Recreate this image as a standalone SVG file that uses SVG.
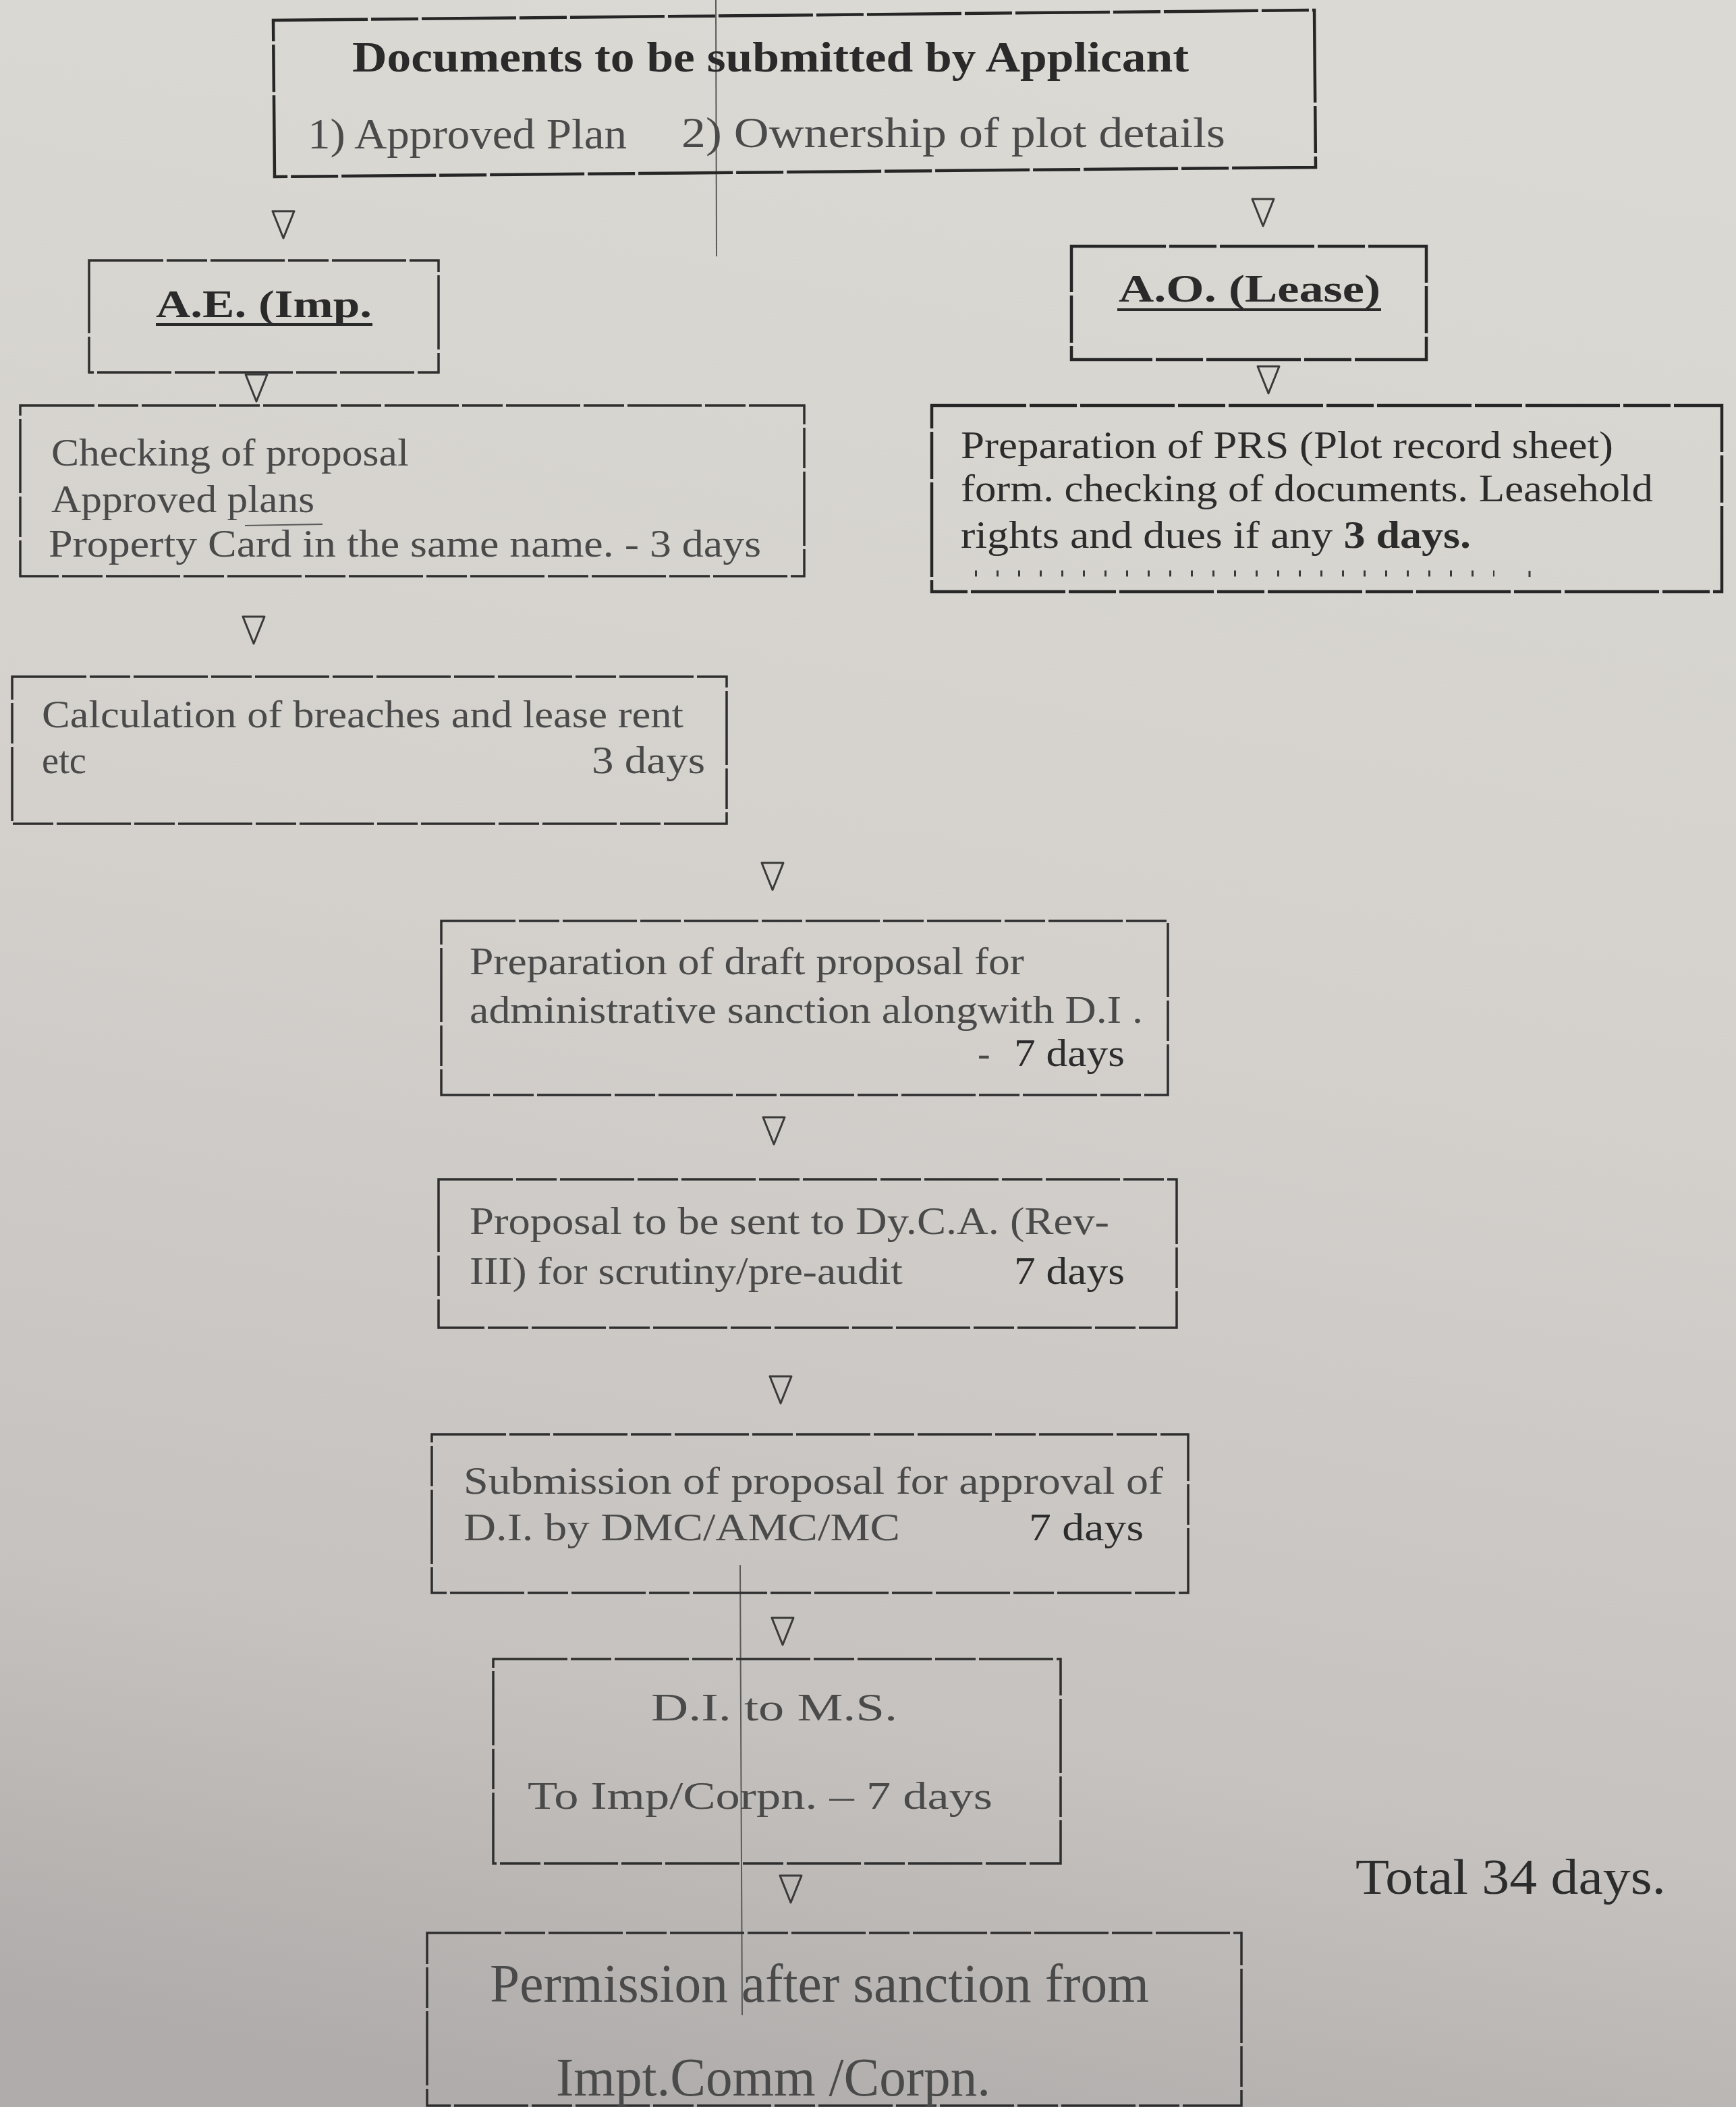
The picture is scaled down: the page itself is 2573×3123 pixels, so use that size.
<svg xmlns="http://www.w3.org/2000/svg" xmlns:xlink="http://www.w3.org/1999/xlink" width="2573" height="3123" viewBox="0 0 2573 3123">
<style>
.box{fill:none;stroke:#2e2e2e;stroke-width:3.5;stroke-dasharray:110 5 60 5}
.boxb{fill:none;stroke:#262626;stroke-width:4.5;stroke-dasharray:140 5 70 5}
.tri{fill:none;stroke:#3a3a3a;stroke-width:3;stroke-linejoin:round}
.t{font-family:"Liberation Serif","Times New Roman",serif;fill:#4a4a4a}
.tb{font-family:"Liberation Serif","Times New Roman",serif;fill:#2a2a2a;font-weight:bold}
.dk{fill:#2c2c2c}
.mark{stroke:#5a5a5a;stroke-width:2;fill:none}
.ul{stroke:#2a2a2a;stroke-width:4}
</style>
<defs>
<linearGradient id="bg" x1="0.5" y1="0" x2="0.35" y2="1">
<stop offset="0" stop-color="#dbd9d4"/>
<stop offset="0.45" stop-color="#d4d1cd"/>
<stop offset="0.8" stop-color="#c6c2bf"/>
<stop offset="1" stop-color="#b0acab"/>
</linearGradient>
<path id="tri" class="tri" d="M-16,0 L16,0 L0,40 Z"/>
</defs>
<rect x="0" y="0" width="2573" height="3123" fill="url(#bg)"/>

<g id="marks">
<line class="mark" x1="1061" y1="0" x2="1062" y2="380"/>
<line class="mark" x1="1097" y1="2320" x2="1100" y2="2987"/>
<line class="mark" x1="363" y1="779" x2="478" y2="777"/>
</g>

<g id="connectors">
<use xlink:href="#tri" x="420" y="313"/>
<use xlink:href="#tri" x="1872" y="295"/>
<use xlink:href="#tri" x="380" y="555"/>
<use xlink:href="#tri" x="1880" y="543"/>
<use xlink:href="#tri" x="376" y="914"/>
<use xlink:href="#tri" x="1145" y="1279"/>
<use xlink:href="#tri" x="1147" y="1656"/>
<use xlink:href="#tri" x="1157" y="2040"/>
<use xlink:href="#tri" x="1160" y="2398"/>
<use xlink:href="#tri" x="1172" y="2780"/>
</g>

<g id="n-documents">
<path class="boxb" d="M405,30 L1948,15 L1950,248 L407,262 Z"/>
<text class="tb" x="522" y="106" font-size="64" textLength="1240" lengthAdjust="spacingAndGlyphs">Documents to be submitted by Applicant</text>
<text class="t" x="456" y="220" font-size="64" textLength="473" lengthAdjust="spacingAndGlyphs">1) Approved Plan</text>
<text class="t" x="1010" y="218" font-size="64" textLength="806" lengthAdjust="spacingAndGlyphs">2) Ownership of plot details</text>
</g>

<g id="n-ae">
<rect class="box" x="132" y="386" width="518" height="166"/>
<text class="tb" x="231" y="470" font-size="58" textLength="320" lengthAdjust="spacingAndGlyphs">A.E. (Imp.</text>
<line class="ul" x1="231" y1="481" x2="552" y2="481"/>
</g>

<g id="n-ao">
<rect class="boxb" x="1588" y="365" width="526" height="168"/>
<text class="tb" x="1658" y="447" font-size="58" textLength="388" lengthAdjust="spacingAndGlyphs">A.O. (Lease)</text>
<line class="ul" x1="1656" y1="459" x2="2047" y2="459"/>
</g>

<g id="n-checking">
<rect class="box" x="30" y="601" width="1162" height="253"/>
<text class="t" x="76" y="690" font-size="56" textLength="530" lengthAdjust="spacingAndGlyphs">Checking of proposal</text>
<text class="t" x="76" y="759" font-size="56" textLength="390" lengthAdjust="spacingAndGlyphs">Approved plans</text>
<text class="t" x="72" y="825" font-size="56" textLength="1056" lengthAdjust="spacingAndGlyphs">Property Card in the same name. - 3  days</text>
</g>

<g id="n-prs">
<rect class="boxb" x="1381" y="601" width="1171" height="276"/>
<text class="t dk" x="1424" y="679" font-size="56" textLength="967" lengthAdjust="spacingAndGlyphs">Preparation of PRS (Plot record sheet)</text>
<text class="t dk" x="1424" y="743" font-size="56" textLength="1026" lengthAdjust="spacingAndGlyphs">form. checking of documents. Leasehold</text>
<text class="t dk" x="1424" y="812" font-size="56" textLength="756" lengthAdjust="spacingAndGlyphs">rights and dues if any  <tspan font-weight="bold">3 days.</tspan></text>
<line x1="1445" y1="850" x2="2215" y2="850" stroke="#3a3a3a" stroke-width="9" stroke-dasharray="3 29"/>
<line x1="2267" y1="846" x2="2267" y2="855" stroke="#3a3a3a" stroke-width="3"/>
</g>

<g id="n-calculation">
<rect class="box" x="18" y="1003" width="1059" height="218"/>
<text class="t" x="62" y="1078" font-size="56" textLength="951" lengthAdjust="spacingAndGlyphs">Calculation of breaches and lease rent</text>
<text class="t" x="62" y="1146" font-size="56" textLength="66" lengthAdjust="spacingAndGlyphs">etc</text>
<text class="t" x="877" y="1146" font-size="56" textLength="168" lengthAdjust="spacingAndGlyphs">3 days</text>
</g>

<g id="n-draft">
<rect class="box" x="654" y="1365" width="1077" height="258"/>
<text class="t" x="696" y="1444" font-size="56" textLength="822" lengthAdjust="spacingAndGlyphs">Preparation of draft proposal for</text>
<text class="t" x="696" y="1516" font-size="56" textLength="998" lengthAdjust="spacingAndGlyphs">administrative sanction alongwith D.I .</text>
<text class="t" x="1449" y="1580" font-size="56">-</text>
<text class="t dk" x="1503" y="1580" font-size="56" textLength="164" lengthAdjust="spacingAndGlyphs">7 days</text>
</g>

<g id="n-dyca">
<rect class="box" x="650" y="1748" width="1094" height="220"/>
<text class="t" x="696" y="1829" font-size="56" textLength="948" lengthAdjust="spacingAndGlyphs">Proposal to be sent to Dy.C.A. (Rev-</text>
<text class="t" x="696" y="1903" font-size="56" textLength="642" lengthAdjust="spacingAndGlyphs">III) for scrutiny/pre-audit</text>
<text class="t dk" x="1503" y="1903" font-size="56" textLength="164" lengthAdjust="spacingAndGlyphs">7 days</text>
</g>

<g id="n-submission">
<rect class="box" x="640" y="2126" width="1121" height="235"/>
<text class="t" x="687" y="2214" font-size="56" textLength="1037" lengthAdjust="spacingAndGlyphs">Submission of proposal for approval of</text>
<text class="t" x="687" y="2283" font-size="56" textLength="647" lengthAdjust="spacingAndGlyphs">D.I. by DMC/AMC/MC</text>
<text class="t dk" x="1525" y="2283" font-size="56" textLength="170" lengthAdjust="spacingAndGlyphs">7 days</text>
</g>

<g id="n-ms">
<rect class="box" x="731" y="2459" width="841" height="303"/>
<text class="t" x="965" y="2550" font-size="58" textLength="365" lengthAdjust="spacingAndGlyphs">D.I. to M.S.</text>
<text class="t" x="782" y="2681" font-size="58" textLength="689" lengthAdjust="spacingAndGlyphs">To Imp/Corpn. – 7 days</text>
</g>

<g id="n-permission">
<rect class="box" x="633" y="2865" width="1207" height="256"/>
<text class="t" x="726" y="2967" font-size="80" textLength="977" lengthAdjust="spacingAndGlyphs">Permission after sanction from</text>
<text class="t" x="824" y="3106" font-size="80" textLength="644" lengthAdjust="spacingAndGlyphs">Impt.Comm /Corpn.</text>
</g>

<g id="n-total">
<text class="t dk" x="2009" y="2807" font-size="74" textLength="460" lengthAdjust="spacingAndGlyphs">Total 34 days.</text>
</g>
</svg>
